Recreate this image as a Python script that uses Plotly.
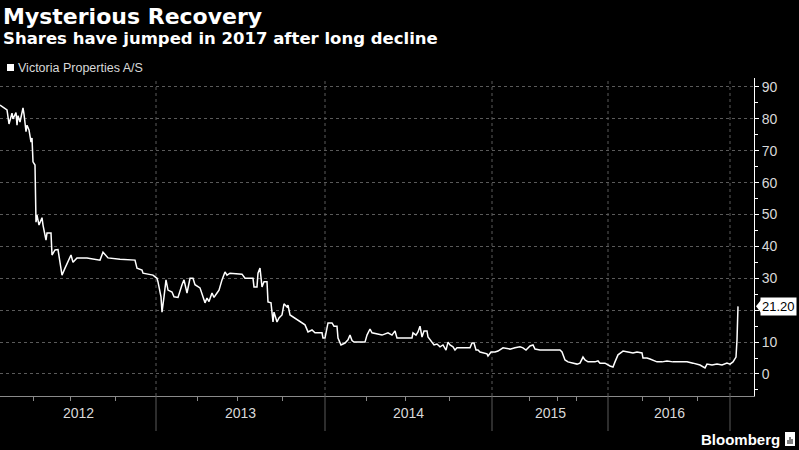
import plotly.graph_objects as go

# Victoria Properties A/S share price.
# Bloomberg plots trading sessions evenly, so the x axis is a session index.
session = [0, 7, 9, 12, 13, 16, 17, 18, 20, 23, 24, 26, 27, 29, 31, 32, 33, 35,
           36, 37, 39, 42, 43, 46, 47, 51, 52, 55, 58, 60, 62, 65, 68, 71, 73, 77,
           87, 100, 103, 108, 120, 130, 135, 137, 142, 143, 150, 153, 157, 158,
           161, 162, 164, 166, 168, 172, 174, 178, 182, 184, 187, 190, 193, 195,
           200, 205, 207, 209, 212, 214, 217, 219, 222, 225, 227, 230, 242, 245,
           253, 254, 257, 258, 260, 262, 264, 267, 268, 271, 273, 274, 277, 279,
           282, 284, 287, 288, 290, 293, 297, 300, 305, 308, 312, 315, 322, 323,
           325, 328, 332, 334, 337, 338, 341, 345, 348, 350, 352, 354, 365, 367,
           370, 372, 377, 382, 388, 392, 395, 397, 412, 413, 416, 418, 420, 422,
           424, 427, 428, 432, 434, 437, 440, 443, 446, 448, 450, 453, 455, 457,
           470, 472, 474, 476, 478, 480, 484, 487, 488, 491, 495, 498, 503, 510,
           515, 520, 523, 526, 530, 533, 535, 540, 547, 553, 560, 562, 565, 568,
           572, 577, 580, 583, 585, 588, 595, 598, 600, 605, 610, 613, 615, 617,
           618, 622, 623, 628, 633, 637, 642, 643, 647, 650, 653, 657, 662, 667,
           673, 680, 687, 693, 700, 705, 707, 712, 717, 722, 727, 730, 733, 736,
           737, 738]
price = [84.3, 82.8, 78.4, 81.8, 80.0, 82.0, 78.0, 81.0, 79.0, 83.4, 81.5, 76.0,
         78.0, 76.5, 72.7, 74.0, 66.5, 65.5, 47.6, 49.8, 46.7, 49.0, 46.7, 42.0,
         44.2, 44.2, 37.3, 38.9, 39.0, 35.0, 31.0, 33.2, 35.0, 37.3, 35.0, 36.4,
         36.4, 35.7, 38.2, 36.4, 36.0, 35.7, 35.7, 33.2, 32.6, 31.6, 31.3, 31.0,
         30.0, 28.9, 24.2, 19.4, 24.2, 29.5, 26.3, 25.7, 24.2, 24.0, 28.0, 29.5,
         25.4, 30.0, 30.0, 28.0, 27.0, 22.3, 23.8, 22.7, 25.4, 24.0, 25.4, 26.3,
         29.5, 32.0, 31.0, 31.6, 31.3, 30.0, 30.0, 27.3, 27.3, 31.6, 33.2, 27.3,
         28.9, 28.9, 22.6, 22.3, 16.3, 19.4, 16.3, 17.6, 18.5, 22.0, 21.0, 21.6,
         18.5, 17.9, 17.0, 16.3, 15.4, 13.2, 13.8, 12.9, 12.9, 11.3, 11.3, 16.0,
         16.0, 15.0, 15.0, 11.3, 9.1, 9.7, 10.7, 12.2, 10.5, 10.0, 10.0, 12.2,
         14.1, 12.9, 12.5, 12.2, 12.9, 12.2, 13.5, 11.3, 11.3, 12.9, 12.2, 13.2,
         15.0, 11.6, 13.5, 13.5, 11.6, 10.0, 9.1, 9.4, 8.5, 9.1, 7.5, 10.0,
         9.1, 8.5, 7.5, 8.2, 8.2, 9.7, 9.7, 7.5, 7.5, 6.9, 6.6, 6.3,
         5.6, 6.9, 6.9, 7.2, 8.2, 7.8, 8.2, 8.5, 8.2, 7.5, 8.8, 9.1,
         7.8, 7.5, 7.5, 7.5, 7.5, 6.9, 4.4, 3.8, 3.4, 3.1, 3.4, 5.3,
         4.4, 3.8, 3.8, 4.1, 3.4, 3.4, 2.5, 2.2, 3.8, 5.3, 6.0, 6.9,
         7.2, 6.9, 6.6, 6.9, 6.6, 5.0, 5.0, 4.7, 4.4, 3.8, 3.8, 4.1,
         3.8, 3.8, 3.8, 3.4, 2.8, 1.9, 3.1, 2.8, 3.1, 2.8, 3.4, 3.1,
         3.8, 5.3, 10.7, 21.2]

# session index where each new year starts, and the quarter ticks in between
year_labels = ["2012", "2013", "2014", "2015", "2016"]
year_starts = [156, 325, 492, 608, 730]
quarter_ticks = [33, 70, 115, 197, 237, 282, 366, 405, 449, 529, 557, 576,
                 642, 669, 697]
y_ticks = [0, 10, 20, 30, 40, 50, 60, 70, 80, 90]
last_label = "21.20"

X_MAX = 754
Y_RANGE = [-6.9, 92.8]
GRID = "#5a5a5a"
TEXT = "#d9d9d9"


def paper_y(px):
    """Convert a pixel row (from the top of the page) to paper y."""
    return (396 - px) / 318


def paper_x(px):
    return px / X_MAX


def build_figure():
    fig = go.Figure()

    fig.add_trace(go.Scatter(
        x=session, y=price, mode="lines",
        line=dict(color="white", width=1.5),
        name="Victoria Properties A/S",
        showlegend=False, hoverinfo="x+y"
    ))

    # year boundaries: dotted inside the plot, solid below the axis
    for xs in year_starts:
        fig.add_shape(type="line", xref="x", yref="paper", x0=xs, x1=xs, y0=0, y1=1,
                      line=dict(color=GRID, width=1, dash="dot"), layer="below")
        fig.add_shape(type="line", xref="x", yref="paper", x0=xs, x1=xs,
                      y0=paper_y(431), y1=0, line=dict(color=GRID, width=1))

    # year labels centred in each year's span
    edges = [0] + year_starts
    for i, lab in enumerate(year_labels):
        fig.add_annotation(x=(edges[i] + edges[i + 1]) / 2, xref="x",
                           y=paper_y(423), yref="paper", text=lab, showarrow=False,
                           font=dict(size=14, color=TEXT))

    # titles
    fig.add_annotation(x=paper_x(1), y=paper_y(16), xref="paper", yref="paper",
                       xanchor="left", yanchor="middle", showarrow=False,
                       text="<b>Mysterious Recovery</b>",
                       font=dict(family="DejaVu Sans", size=22, color="white"))
    fig.add_annotation(x=paper_x(1), y=paper_y(39), xref="paper", yref="paper",
                       xanchor="left", yanchor="middle", showarrow=False,
                       text="<b>Shares have jumped in 2017 after long decline</b>",
                       font=dict(family="DejaVu Sans", size=16.5, color="white"))

    # legend (square + name)
    fig.add_shape(type="rect", xref="paper", yref="paper",
                  x0=paper_x(7), x1=paper_x(14), y0=paper_y(71), y1=paper_y(64),
                  fillcolor="white", line=dict(width=0))
    fig.add_annotation(x=paper_x(16), y=paper_y(68), xref="paper", yref="paper",
                       xanchor="left", yanchor="middle", showarrow=False,
                       text="Victoria Properties A/S",
                       font=dict(size=12.5, color=TEXT))

    # last price tag on the right axis (it hides the "20" tick label)
    last = price[-1]
    fig.add_shape(type="path", xref="paper", yref="y",
                  path=f"M {paper_x(756)} {last} L {paper_x(762)} {last + 2.4} "
                       f"L {paper_x(762)} {last - 2.4} Z",
                  fillcolor="white", line=dict(width=0))
    fig.add_annotation(x=paper_x(760), y=last, xref="paper", yref="y",
                       xanchor="left", yanchor="middle", showarrow=False,
                       text=last_label, bgcolor="white", borderpad=1,
                       font=dict(size=13, color="black"))

    # Bloomberg mark
    fig.add_annotation(x=paper_x(782), y=paper_y(439), xref="paper", yref="paper",
                       xanchor="right", yanchor="middle", showarrow=False,
                       text="<b>Bloomberg</b>",
                       font=dict(size=15, color="white"))
    fig.add_shape(type="rect", xref="paper", yref="paper",
                  x0=paper_x(785), x1=paper_x(795), y0=paper_y(446), y1=paper_y(432),
                  fillcolor="white", line=dict(width=0))
    for bx, top in [(788, 440), (790, 437), (792, 439)]:
        fig.add_shape(type="line", xref="paper", yref="paper",
                      x0=paper_x(bx), x1=paper_x(bx), y0=paper_y(444), y1=paper_y(top),
                      line=dict(color="black", width=1))

    fig.update_layout(
        width=799, height=450,
        paper_bgcolor="black", plot_bgcolor="black",
        margin=dict(l=0, r=45, t=78, b=54),
        font=dict(family="Liberation Sans, Arial, sans-serif", color=TEXT),
        showlegend=False,
    )
    fig.update_xaxes(
        range=[0, X_MAX], showgrid=False, zeroline=False,
        tickvals=quarter_ticks, showticklabels=False,
        ticks="outside", ticklen=4, tickcolor="#8a8a8a",
        showline=True, linecolor="#8a8a8a", linewidth=1,
    )
    tick_text = ["" if v == 20 else str(v) for v in y_ticks]
    fig.update_yaxes(
        range=Y_RANGE, side="right", zeroline=False,
        tickvals=y_ticks, ticktext=tick_text,
        ticks="outside", ticklen=4, tickcolor="white",
        showgrid=True, gridcolor=GRID, griddash="dot", gridwidth=1,
        showline=True, linecolor="white", linewidth=1,
        tickfont=dict(size=14, color=TEXT),
        minor=dict(dtick=5, tick0=0, ticks="outside", ticklen=3,
                   tickcolor="white", showgrid=False),
    )
    return fig


def main():
    fig = build_figure()
    # the page body has a default 8px margin; drop it so the chart fills the window
    fig.write_html("out.html", config={"displayModeBar": False},
                   post_script="document.body.style.margin='0';"
                               "document.body.style.background='black';")


if __name__ == "__main__":
    main()
